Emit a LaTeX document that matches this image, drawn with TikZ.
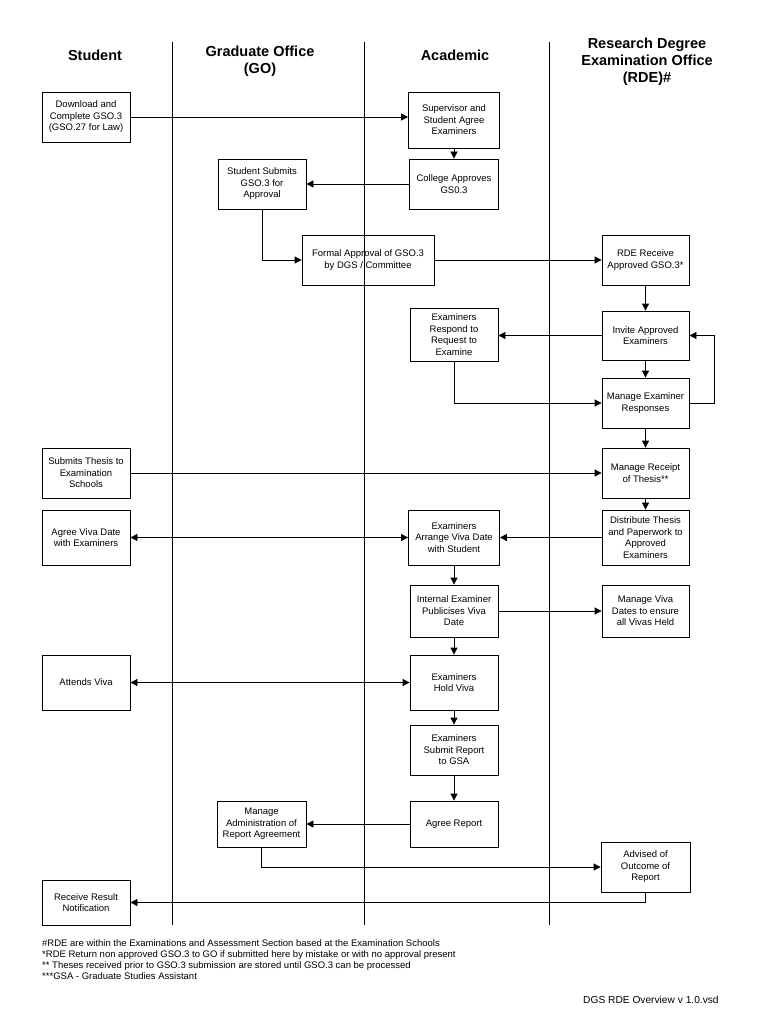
\documentclass[tikz,border=0pt]{standalone}
\usepackage{fontspec}
\setmainfont{Liberation Sans}
\usetikzlibrary{arrows.meta}
\begin{document}
\begin{tikzpicture}[x=1pt,y=-1pt,
  box/.style={draw, line width=0.8pt, align=center, inner sep=1pt,
    font=\fontsize{9.5}{11.5}\selectfont},
  lane/.style={line width=0.8pt},
  arr/.style={-{Triangle[length=7pt,width=7pt]}, line width=0.8pt},
  darr/.style={{Triangle[length=7pt,width=7pt]}-{Triangle[length=7pt,width=7pt]}, line width=0.8pt},
  head/.style={align=center, font=\fontsize{14.5}{17}\selectfont\bfseries},
  note/.style={align=left, inner sep=0pt, font=\fontsize{9.5}{11.3}\selectfont}]
\useasboundingbox (0,0) rectangle (768,1024);
\fill[white] (0,0) rectangle (768,1024);
% lanes
\draw[lane] (172,42) -- (172,925);
\draw[lane] (364,42) -- (364,925);
\draw[lane] (549,42) -- (549,925);
% headers
\node[head] (hst) at (95,55) {Student};
\node[head] (hgo) at (260,61.5) {Graduate Office\\(GO)};
\node[head] (hac) at (455,55) {Academic};
\node[head] (hrde) at (647,62) {Research Degree\\Examination Office\\(RDE)\#};
% boxes
\node[box, minimum width=88pt, minimum height=50pt] (dl) at (86,117) {Download and\\Complete GSO.3\\(GSO.27 for Law)};
\node[box, minimum width=91pt, minimum height=56pt] (sup) at (454,120) {Supervisor and\\Student Agree\\Examiners};
\node[box, minimum width=89pt, minimum height=50pt] (col) at (454,184) {College Approves\\GS0.3};
\node[box, minimum width=88pt, minimum height=50pt] (ssub) at (262,184) {Student Submits\\GSO.3 for\\Approval};
\node[box, minimum width=132pt, minimum height=50pt] (formal) at (368,260) {Formal Approval of GSO.3\\by DGS / Committee};
\node[box, minimum width=87pt, minimum height=50pt] (rder) at (645.5,260) {RDE Receive\\Approved GSO.3*};
\node[box, minimum width=88pt, minimum height=53pt] (resp) at (454,334.5) {Examiners\\Respond to\\Request to\\Examine};
\node[box, minimum width=87pt, minimum height=49pt] (inv) at (645.5,335.5) {Invite Approved\\Examiners};
\node[box, minimum width=87pt, minimum height=50pt] (mer) at (645.5,403) {Manage Examiner\\Responses};
\node[box, minimum width=88pt, minimum height=50pt] (sth) at (86,473) {Submits Thesis to\\Examination\\Schools};
\node[box, minimum width=87pt, minimum height=50pt] (mrt) at (645.5,473) {Manage Receipt\\of Thesis**};
\node[box, minimum width=88pt, minimum height=55pt] (avd) at (86,537.5) {Agree Viva Date\\with Examiners};
\node[box, minimum width=91pt, minimum height=55pt] (arr) at (454,537.5) {Examiners\\Arrange Viva Date\\with Student};
\node[box, minimum width=87pt, minimum height=55pt] (dist) at (645.5,537.5) {Distribute Thesis\\and Paperwork to\\Approved\\Examiners};
\node[box, minimum width=88pt, minimum height=52pt] (ie) at (454,611) {Internal Examiner\\Publicises Viva\\Date};
\node[box, minimum width=87pt, minimum height=52pt] (mvd) at (645.5,611) {Manage Viva\\Dates to ensure\\all Vivas Held};
\node[box, minimum width=88pt, minimum height=55pt] (att) at (86,682.5) {Attends Viva};
\node[box, minimum width=88pt, minimum height=55pt] (hold) at (454,682.5) {Examiners\\Hold Viva};
\node[box, minimum width=88pt, minimum height=50pt] (sub) at (454,750) {Examiners\\Submit Report\\to GSA};
\node[box, minimum width=89pt, minimum height=46pt] (adm) at (261.5,824) {Manage\\Administration of\\Report Agreement};
\node[box, minimum width=88pt, minimum height=46pt] (agr) at (454,824) {Agree Report};
\node[box, minimum width=89pt, minimum height=50pt] (adv) at (645.5,867) {Advised of\\Outcome of\\Report};
\node[box, minimum width=88pt, minimum height=45pt] (rr) at (86,902.5) {Receive Result\\Notification};
% connectors
\draw[arr] (dl.east) -- (dl.east -| sup.west);
\draw[arr] (sup) -- (col);
\draw[arr] (col) -- (ssub);
\draw[arr] (ssub.south) |- (formal.west);
\draw[arr] (formal) -- (rder);
\draw[arr] (rder) -- (inv);
\draw[arr] (inv.west) -- (inv.west -| resp.east);
\draw[arr] (inv) -- (mer);
\draw[arr] (resp.south) |- (mer.west);
\draw[arr] (mer.east) -- ++(25,0) |- (inv.east);
\draw[arr] (mer) -- (mrt);
\draw[arr] (sth) -- (mrt);
\draw[arr] (mrt) -- (dist);
\draw[arr] (dist) -- (arr);
\draw[darr] (avd) -- (arr);
\draw[arr] (arr) -- (ie);
\draw[arr] (ie) -- (mvd);
\draw[arr] (ie) -- (hold);
\draw[darr] (att) -- (hold);
\draw[arr] (hold) -- (sub);
\draw[arr] (sub) -- (agr);
\draw[arr] (agr) -- (adm);
\draw[arr] (adm.south) |- (adv.west);
\draw[arr] (adv.south) |- (rr.east);
% notes
\node[note, anchor=north west] (notes) at (42,939) {\#RDE are within the Examinations and Assessment Section based at the Examination Schools\\*RDE Return non approved GSO.3 to GO if submitted here by mistake or with no approval present\\** Theses received prior to GSO.3 submission are stored until GSO.3 can be processed\\***GSA - Graduate Studies Assistant};
\node[note, anchor=west, font=\fontsize{10.2}{12}\selectfont] (file) at (583,1000) {DGS RDE Overview v 1.0.vsd};
\end{tikzpicture}
\end{document}
